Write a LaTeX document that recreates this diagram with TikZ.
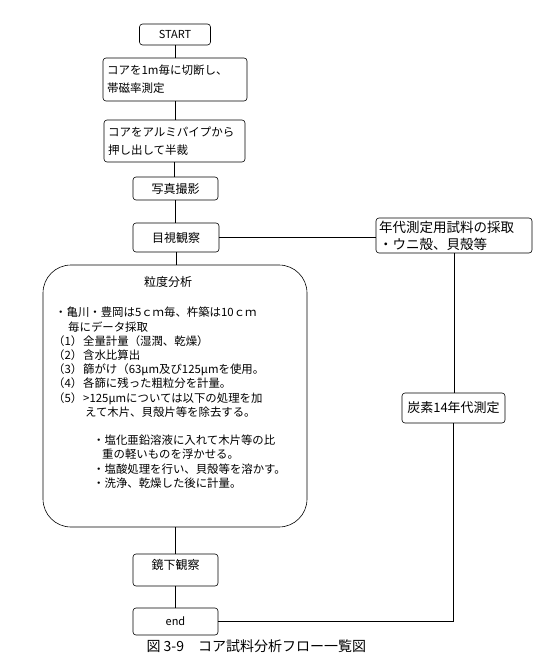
\documentclass[tikz,border=0pt]{standalone}
\usepackage{fontspec}
\setmainfont{Noto Sans CJK JP}
\begin{document}
\begin{tikzpicture}[x=1pt,y=-1pt,
  box/.style={draw, line width=0.6pt, rounded corners=3pt, inner sep=0pt},
  lbox/.style={box, align=left, inner xsep=4pt, font=\fontsize{11.5}{18}\selectfont},
  line/.style={line width=0.6pt}]
\useasboundingbox[fill=white] (0,0) rectangle (544,668);

\node[box, minimum width=71pt, minimum height=21pt, font=\fontsize{11}{13}\selectfont] (start) at (175,34.5) {START};
\node[lbox, text width=136pt, minimum width=144pt, minimum height=43pt] (cut) at (175,79.5) {コアを1m毎に切断し、\\帯磁率測定};
\node[lbox, text width=133pt, minimum width=141pt, minimum height=42pt] (half) at (174.5,141) {コアをアルミパイプから\\押し出して半裁};
\node[box, minimum width=85pt, minimum height=23pt, font=\fontsize{12}{14}\selectfont] (photo) at (175.5,188.5) {写真撮影};
\node[box, minimum width=86pt, minimum height=29pt, font=\fontsize{12}{14}\selectfont] (visual) at (176,237.5) {目視観察};
\node[box, align=left, inner xsep=3pt, text width=150pt, minimum width=156pt, minimum height=35pt, font=\fontsize{13.5}{17}\selectfont] (sample) at (454,235.5) {年代測定用試料の採取\\・ウニ殻、貝殻等};

\node[draw, line width=0.6pt, rounded corners=28pt, minimum width=264pt, minimum height=262pt, inner sep=0pt] (grain) at (175,396) {};
\node[font=\fontsize{12}{14}\selectfont] (gtitle) at (168,282) {粒度分析};
\node[anchor=north west, inner sep=0pt, align=left, font=\fontsize{11.4}{14.2}\selectfont] (gbody) at (53,307) {%
\hspace*{2pt}・亀川・豊岡は5ｃｍ毎、杵築は10ｃｍ\\
\hspace*{15pt}毎にデータ採取\\
\makebox[30pt][l]{（1）}全量計量（湿潤、乾燥）\\
\makebox[30pt][l]{（2）}含水比算出\\
\makebox[30pt][l]{（3）}篩がけ（63μm及び125μmを使用。\\
\makebox[30pt][l]{（4）}各篩に残った粗粒分を計量。\\
\makebox[30pt][l]{（5）}>125μmについては以下の処理を加\\
\hspace*{32pt}えて木片、貝殻片等を除去する。\\[14.2pt]
\hspace*{40pt}・塩化亜鉛溶液に入れて木片等の比\\
\hspace*{49pt}重の軽いものを浮かせる。\\
\hspace*{40pt}・塩酸処理を行い、貝殻等を溶かす。\\
\hspace*{40pt}・洗浄、乾燥した後に計量。};

\node[box, minimum width=103pt, minimum height=30pt, font=\fontsize{13}{15}\selectfont] (c14) at (453.5,408) {炭素14年代測定};
\node[box, minimum width=85pt, minimum height=32pt] (micro) at (175.5,570) {};
\node[font=\fontsize{12}{14}\selectfont, inner sep=0pt] (microtext) at (175.5,565) {鏡下観察};
\node[box, minimum width=85pt, minimum height=27pt, font=\fontsize{11}{13}\selectfont] (end) at (175.5,621.5) {end};

\node[anchor=west, font=\fontsize{14}{16}\selectfont] (caption) at (143,646) {図 3-9　コア試料分析フロー一覧図};

\draw[line] (start.south) -- (start.south |- cut.north);
\draw[line] (cut.south) -- (cut.south |- half.north);
\draw[line] (half.south) -- (half.south |- photo.north);
\draw[line] (photo.south) -- (photo.south |- visual.north);
\draw[line] (visual.south) -- (visual.south |- grain.north);
\draw[line] (grain.south) -- (grain.south |- micro.north);
\draw[line] (micro.south) -- (micro.south |- end.north);
\draw[line] (visual.east) -- (visual.east -| sample.west);
\draw[line] (sample.south) -- (sample.south |- c14.north);
\coordinate (corner) at (c14.south |- end.east);
\draw[line] (c14.south) -- (corner) -- (end.east);
\end{tikzpicture}
\end{document}
